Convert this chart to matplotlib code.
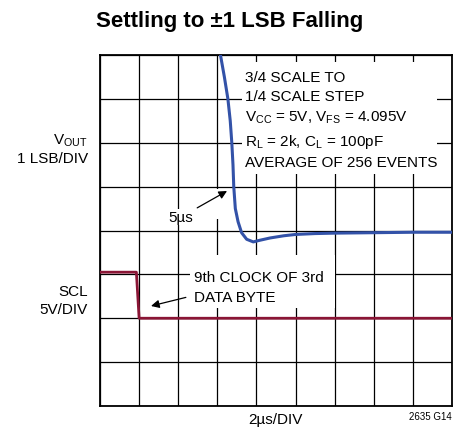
import matplotlib
matplotlib.use("Agg")
import matplotlib.pyplot as plt
from matplotlib import font_manager
from matplotlib.patches import Rectangle

# pick a narrow face when there is one
names = {f.name for f in font_manager.fontManager.ttflist}
if "Liberation Sans Narrow" in names:
    FONT = "Liberation Sans Narrow"
else:
    FONT = "Liberation Sans"
plt.rcParams["font.family"] = [FONT, "DejaVu Sans"]
plt.rcParams["mathtext.default"] = "regular"

# scope traces, x and y in divisions (2us/div across, 9 x 8 grid)
vout_x = [2.95, 3.08, 3.18, 3.27, 3.33, 3.37, 3.40, 3.42, 3.46, 3.53, 3.62, 3.75,
          3.92, 4.05, 4.35, 4.70, 5.00, 5.50, 6.00, 7.00, 8.00, 9.00]
vout_y = [8.60, 8.00, 7.50, 7.00, 6.50, 6.00, 5.50, 5.00, 4.50, 4.20, 3.95, 3.80,
          3.74, 3.77, 3.83, 3.88, 3.91, 3.93, 3.94, 3.95, 3.96, 3.96]
scl_x = [0.0, 0.93, 1.0, 9.0]
scl_y = [3.05, 3.05, 2.0, 2.0]

W, H = 454, 431
fig = plt.figure(figsize=(W / 100, H / 100), dpi=100)
ax = fig.add_axes([100 / W, 1 - 407 / H, 352 / W, 351 / H])
ax.set_xlim(0, 9)
ax.set_ylim(0, 8)
ax.set_xticks(range(10))
ax.set_yticks(range(9))
ax.tick_params(length=0, labelbottom=False, labelleft=False)
ax.grid(True, color="black", linewidth=0.9)
for s in ax.spines.values():
    s.set_linewidth(1.3)


def px(x, y):
    # pixel position -> divisions
    return (x - 100) / 39.1, (407 - y) / 43.875


# white patches that blank the grid behind the notes
for x0, y0, x1, y1 in [(242, 63, 437, 175), (190, 256, 335, 309), (205, 190, 226, 220)]:
    a, b = px(x0, y1)
    c, d = px(x1, y0)
    ax.add_patch(Rectangle((a, b), c - a, d - b, facecolor="white",
                           edgecolor="none", zorder=2))

ax.plot(vout_x, vout_y, color="#3352a8", linewidth=2.2, solid_capstyle="round", zorder=4)
ax.plot(scl_x, scl_y, color="#8a1535", linewidth=2.0, zorder=4)

note = ("3/4 SCALE TO\n1/4 SCALE STEP\n"
        "V$_{CC}$ = 5V, V$_{FS}$ = 4.095V\n"
        "R$_{L}$ = 2k, C$_{L}$ = 100pF\n"
        "AVERAGE OF 256 EVENTS")
ax.text(*px(245, 120.5), note, fontsize=11, va="center", ha="left",
        linespacing=1.5, zorder=5)

ax.annotate("5µs", xy=px(227, 192), xytext=px(181, 218),
            fontsize=11, ha="center", va="center", zorder=5,
            bbox=dict(facecolor="white", edgecolor="none", pad=1),
            arrowprops=dict(arrowstyle="-|>", color="black", lw=0.9,
                            mutation_scale=12, shrinkA=2, shrinkB=0))

ax.annotate("9th CLOCK OF 3rd\nDATA BYTE", xy=px(151, 307), xytext=px(194, 288),
            fontsize=11, ha="left", va="center", linespacing=1.5, zorder=5,
            arrowprops=dict(arrowstyle="-|>", color="black", lw=0.9,
                            mutation_scale=12, shrinkA=4, shrinkB=0,
                            relpos=(0.0, 0.25)))

fig.text(88 / W, 1 - 149 / H, "V$_{OUT}$\n1 LSB/DIV", fontsize=11, ha="right",
         va="center", linespacing=1.3)
fig.text(88 / W, 1 - 301 / H, "SCL\n5V/DIV", fontsize=11, ha="right",
         va="center", linespacing=1.3)
fig.text(275 / W, 1 - 420 / H, "2µs/DIV", fontsize=11, ha="center", va="center")
fig.text(452 / W, 1 - 417 / H, "2635 G14", fontsize=7, ha="right", va="center")
fig.text(230 / W, 1 - 21 / H, "Settling to ±1 LSB Falling", fontsize=16,
         fontweight="bold", ha="center", va="center")

fig.savefig("out.png", dpi=100)
